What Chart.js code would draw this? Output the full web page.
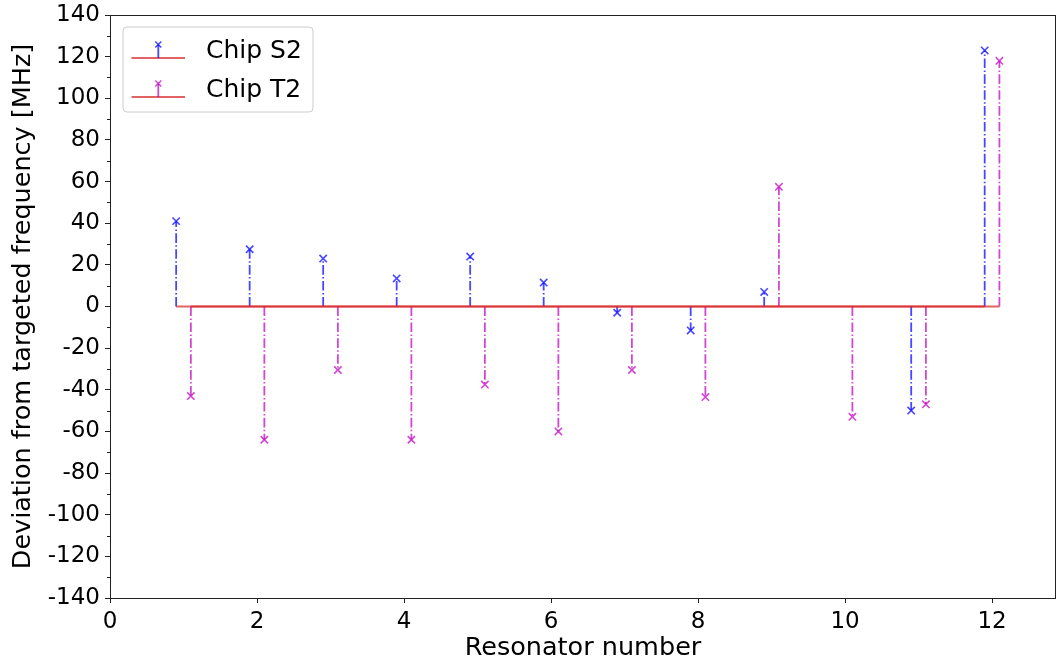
<!DOCTYPE html>
<html>
<head>
<meta charset="utf-8">
<script src="https://cdn.jsdelivr.net/npm/chart.js@4.4.1/dist/chart.umd.min.js"></script>
<style>
  html, body { margin: 0; padding: 0; background: #ffffff; }
  #wrap { position: relative; width: 1057px; height: 664px; }
</style>
</head>
<body>
<div id="wrap"><canvas id="stems" width="1057" height="664"></canvas></div>
<script>
// Resonator numbers and measured deviations (MHz) for each chip
const resonators = [1, 2, 3, 4, 5, 6, 7, 8, 9, 10, 11, 12];
const chipS2 = [41, 27.5, 23, 13.5, 24, 11.5, -3, -11.5, 7, null, -50, 123];
const chipT2 = [-43, -64, -30.5, -64, -37.5, -60, -30.5, -43.5, 57.5, -53, -47, 118];
const offsetS2 = -0.1;
const offsetT2 = 0.1;
const xTicks = [0, 2, 4, 6, 8, 10, 12];
const yTicks = [-140, -120, -100, -80, -60, -40, -20, 0, 20, 40, 60, 80, 100, 120, 140];
const yMinorTicks = [-130, -110, -90, -70, -50, -30, -10, 10, 30, 50, 70, 90, 110, 130];

const FONT = "'DejaVu Sans', 'Liberation Sans', sans-serif";
const BLUE = 'rgba(0,0,255,0.72)';
const MAGENTA = 'rgba(191,0,191,0.72)';
const RED = 'rgba(214,39,40,0.72)';
const DASHDOT = [9.6, 2.4, 1.5, 2.4];

// Stem lines: each resonator contributes baseline -> tip, then a gap
function stemPoints(values, offset) {
  const pts = [];
  values.forEach((v, i) => {
    if (v === null) return;
    const x = resonators[i] + offset;
    pts.push({ x: x, y: 0, tip: false });
    pts.push({ x: x, y: v, tip: true });
    pts.push({ x: x, y: null, tip: false });
  });
  return pts;
}
function baselinePoints(values, offset) {
  const xs = resonators.filter((r, i) => values[i] !== null).map(r => r + offset);
  return [{ x: Math.min(...xs), y: 0 }, { x: Math.max(...xs), y: 0 }];
}

function stemDataset(label, values, offset, color) {
  return {
    label: label,
    data: stemPoints(values, offset),
    borderColor: color,
    borderWidth: 1.8,
    borderDash: DASHDOT,
    spanGaps: false,
    order: 2,
    pointStyle: 'crossRot',
    pointRadius: c => (c.raw && c.raw.tip) ? 5.2 : 0,
    pointBorderColor: color,
    pointBackgroundColor: color,
    pointBorderWidth: 1.6,
    fill: false
  };
}
function baseDataset(values, offset) {
  return {
    label: '',
    data: baselinePoints(values, offset),
    borderColor: RED,
    borderWidth: 2,
    pointRadius: 0,
    order: 1,
    fill: false
  };
}

// Frame, minor ticks and legend box
const decorations = {
  id: 'decorations',
  afterDatasetsDraw(chart) {
    const ctx = chart.ctx;
    const a = chart.chartArea;
    const ys = chart.scales.y;
    ctx.save();
    ctx.strokeStyle = '#222';
    ctx.lineWidth = 1;
    ctx.strokeRect(Math.round(a.left) + 0.5, Math.round(a.top) + 0.5,
                   Math.round(a.right - a.left) - 1, Math.round(a.bottom - a.top));
    ctx.beginPath();
    yMinorTicks.forEach(v => {
      const py = Math.round(ys.getPixelForValue(v)) + 0.5;
      ctx.moveTo(a.left, py);
      ctx.lineTo(a.left - 3, py);
    });
    ctx.stroke();

    // legend
    const lx = 123, ly = 27, lw = 190, lh = 85, r = 4;
    ctx.beginPath();
    ctx.moveTo(lx + r, ly);
    ctx.arcTo(lx + lw, ly, lx + lw, ly + lh, r);
    ctx.arcTo(lx + lw, ly + lh, lx, ly + lh, r);
    ctx.arcTo(lx, ly + lh, lx, ly, r);
    ctx.arcTo(lx, ly, lx + lw, ly, r);
    ctx.closePath();
    ctx.fillStyle = 'rgba(255,255,255,0.8)';
    ctx.fill();
    ctx.strokeStyle = 'rgb(204,204,204)';
    ctx.stroke();

    const entries = [
      { label: chart.data.datasets[0].label, color: BLUE, base: 58, tip: 44.5 },
      { label: chart.data.datasets[1].label, color: MAGENTA, base: 97, tip: 83.5 }
    ];
    entries.forEach(e => {
      ctx.lineWidth = 2;
      ctx.strokeStyle = RED;
      ctx.beginPath();
      ctx.moveTo(131.5, e.base);
      ctx.lineTo(185, e.base);
      ctx.stroke();
      ctx.strokeStyle = e.color;
      ctx.lineWidth = 1.8;
      ctx.beginPath();
      ctx.moveTo(158.3, e.base);
      ctx.lineTo(158.3, e.tip);
      ctx.stroke();
      ctx.lineWidth = 1.5;
      const d = 3;
      ctx.beginPath();
      ctx.moveTo(158.3 - d, e.tip - d); ctx.lineTo(158.3 + d, e.tip + d);
      ctx.moveTo(158.3 - d, e.tip + d); ctx.lineTo(158.3 + d, e.tip - d);
      ctx.stroke();
      ctx.fillStyle = '#000';
      ctx.font = '25px ' + FONT;
      ctx.textBaseline = 'alphabetic';
      ctx.textAlign = 'left';
      ctx.fillText(e.label, 206, e.base);
    });
    ctx.restore();
  }
};

new Chart(document.getElementById('stems'), {
  type: 'line',
  data: {
    datasets: [
      stemDataset('Chip S2', chipS2, offsetS2, BLUE),
      stemDataset('Chip T2', chipT2, offsetT2, MAGENTA),
      baseDataset(chipS2, offsetS2),
      baseDataset(chipT2, offsetT2)
    ]
  },
  options: {
    responsive: false,
    animation: false,
    events: [],
    layout: { padding: { top: 15, right: 1, left: 0, bottom: 0 } },
    plugins: { legend: { display: false }, tooltip: { enabled: false } },
    scales: {
      x: {
        type: 'linear',
        min: 0,
        max: 12.87,
        afterBuildTicks: s => { s.ticks = xTicks.map(v => ({ value: v })); },
        afterFit: s => { s.height = 66; s.paddingLeft = 0; s.paddingRight = 0; },
        ticks: { font: { family: FONT, size: 23 }, color: '#000', padding: 5, maxRotation: 0 },
        grid: { drawOnChartArea: false, drawTicks: true, tickLength: 5, tickColor: '#222', tickWidth: 1 },
        border: { display: false },
        title: { display: true, text: 'Resonator number', font: { family: FONT, size: 25.5 },
                 color: '#000', padding: { top: 0, bottom: 0 } }
      },
      y: {
        type: 'linear',
        min: -140,
        max: 140,
        afterBuildTicks: s => { s.ticks = yTicks.map(v => ({ value: v })); },
        afterFit: s => { s.width = 110; s.paddingTop = 0; s.paddingBottom = 0; },
        ticks: { font: { family: FONT, size: 23 }, color: '#000', padding: 5 },
        grid: { drawOnChartArea: false, drawTicks: true, tickLength: 5, tickColor: '#222', tickWidth: 1 },
        border: { display: false },
        title: { display: true, text: 'Deviation from targeted frequency [MHz]', font: { family: FONT, size: 25.5 },
                 color: '#000', padding: { top: 8, bottom: 0 } }
      }
    }
  },
  plugins: [decorations]
});
</script>
</body>
</html>
